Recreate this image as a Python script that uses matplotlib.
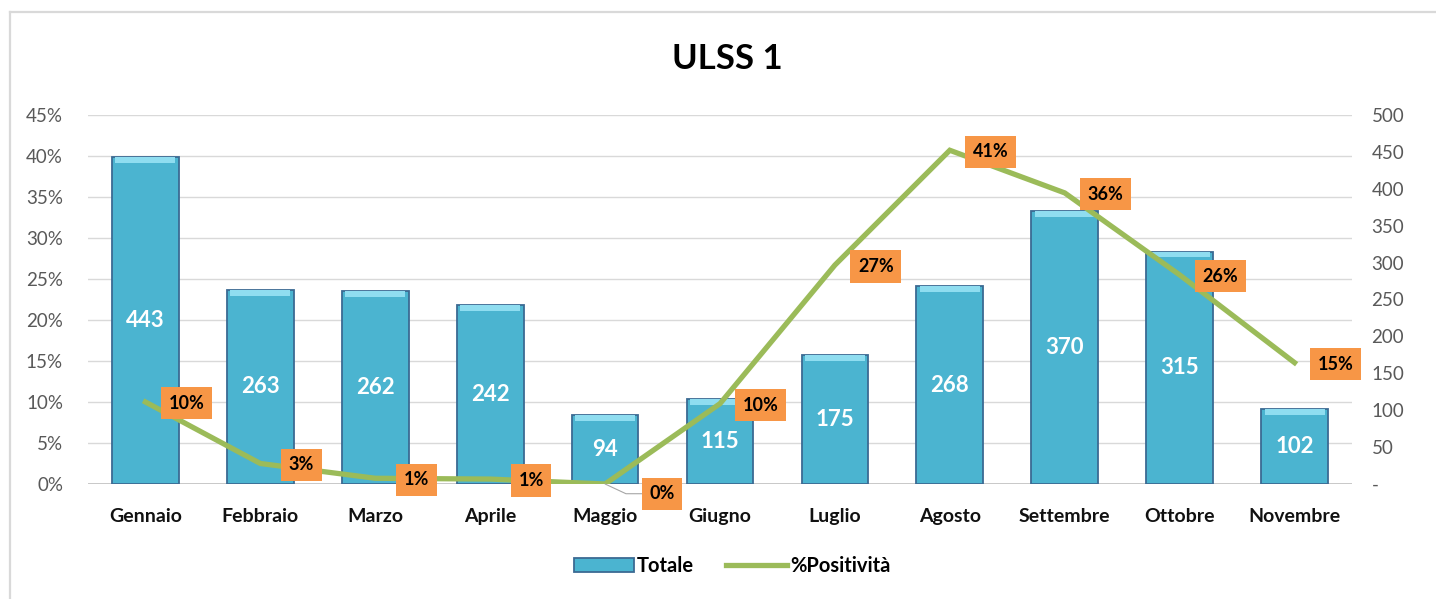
import matplotlib
matplotlib.use("Agg")
import matplotlib.pyplot as plt
from matplotlib.lines import Line2D
from matplotlib.patches import Patch
import numpy as np

plt.rcParams['font.family'] = ['Lato', 'DejaVu Sans']

months = ["Gennaio", "Febbraio", "Marzo", "Aprile", "Maggio", "Giugno",
          "Luglio", "Agosto", "Settembre", "Ottobre", "Novembre"]
totale = [443, 263, 262, 242, 94, 115, 175, 268, 370, 315, 102]
positivita = [0.10, 0.025, 0.007, 0.006, 0.0, 0.098, 0.267, 0.407, 0.355, 0.255, 0.148]
pos_labels = ["10%", "3%", "1%", "1%", "0%", "10%", "27%", "41%", "36%", "26%", "15%"]
left_ticks = [0, 0.05, 0.10, 0.15, 0.20, 0.25, 0.30, 0.35, 0.40, 0.45]
right_ticks = [0, 50, 100, 150, 200, 250, 300, 350, 400, 450, 500]
right_tick_labels = ["-", "50", "100", "150", "200", "250", "300", "350", "400", "450", "500"]

W, H = 1436, 599
fig = plt.figure(figsize=(W / 100, H / 100), dpi=100)
fig.patch.set_facecolor("white")

# outer frame (left + top visible)
fig.add_artist(Line2D([10 / W, 10 / W], [0, 1 - 12 / H], color="#D9D9D9", lw=1.6,
                      transform=fig.transFigure))
fig.add_artist(Line2D([10 / W, 1], [1 - 12 / H, 1 - 12 / H], color="#D9D9D9", lw=1.6,
                      transform=fig.transFigure))

ax = fig.add_axes([88 / W, 1 - 484 / H, (1352 - 88) / W, (484 - 115) / H])
ax2 = ax.twinx()

x = np.arange(len(months))

# bars on secondary axis
bar_color = "#4BB4D0"
bars = ax2.bar(x, totale, width=0.58, color=bar_color, edgecolor="#3B6A93", linewidth=1.3,
               zorder=2)
# bevel highlight on top of each bar
for b in bars:
    bx, bw, bh = b.get_x(), b.get_width(), b.get_height()
    ax2.bar(bx + bw / 2, 8, bottom=bh - 8, width=bw * 0.9, color="#8FDDF0",
            linewidth=0, zorder=3)
for xi, v in zip(x, totale):
    ax2.text(xi, v / 2, str(v), ha="center", va="center", color="white",
             fontsize=16, fontweight="bold", zorder=4)

ax2.set_ylim(0, 500)
ax2.set_yticks(right_ticks)
ax2.set_yticklabels(right_tick_labels)

ax.set_ylim(0, 0.45)
ax.set_yticks(left_ticks)
ax.set_yticklabels([f"{int(round(t * 100))}%" for t in left_ticks])
ax.set_xlim(-0.5, len(months) - 0.5)
ax.set_xticks(x)
ax.set_xticklabels(months, fontweight="bold", fontsize=14, color="#111111")

for t in left_ticks[1:]:
    ax2.axhline(t / 0.45 * 500, color="#D9D9D9", lw=1.0, zorder=0)
ax2.axhline(0, color="#BFBFBF", lw=1.2, zorder=1)

ax.set_zorder(ax2.get_zorder() + 1)
ax.patch.set_visible(False)

line_color = "#9BBB59"
ax.plot(x, positivita, color=line_color, lw=3.8, solid_joinstyle="miter", zorder=5)

for i, (xi, v, lab) in enumerate(zip(x, positivita, pos_labels)):
    if i == 4:
        ax.annotate(lab, xy=(xi, v), xytext=(41, -7), textcoords="offset points",
                    ha="center", va="center", fontsize=13, fontweight="bold",
                    color="black", zorder=6,
                    bbox=dict(boxstyle="square,pad=0.42", fc="#F79646", ec="none"),
                    arrowprops=dict(arrowstyle="-", color="#A6A6A6", lw=0.8,
                                    shrinkA=0, shrinkB=0,
                                    connectionstyle="angle,angleA=0,angleB=-25,rad=0"))
    else:
        ax.annotate(lab, xy=(xi, v), xytext=(29.5, -1), textcoords="offset points",
                    ha="center", va="center", fontsize=13, fontweight="bold",
                    color="black", zorder=6,
                    bbox=dict(boxstyle="square,pad=0.42", fc="#F79646", ec="none"))

for a in (ax, ax2):
    for s in a.spines.values():
        s.set_visible(False)
    a.tick_params(axis="y", length=0, labelsize=13.5, labelcolor="#595959")
ax.tick_params(axis="x", length=0, pad=17)
ax.tick_params(axis="y", pad=18)
ax2.tick_params(axis="y", pad=14)

fig.text(727 / W, 1 - 59 / H, "ULSS 1", ha="center", va="center", fontsize=25,
         fontweight="bold", color="black")

handles = [Patch(facecolor=bar_color, edgecolor="#3B6A93", linewidth=1.3),
           Line2D([0], [0], color=line_color, lw=3.8)]
leg = fig.legend(handles, ["Totale", "%Positività"], loc="center",
                 bbox_to_anchor=(732 / W, 1 - 566 / H), ncol=2, frameon=False,
                 prop=dict(weight="bold", size=14.5), handlelength=3.0,
                 handletextpad=0.15, columnspacing=1.6)

fig.savefig("out.png", dpi=100, facecolor="white")
